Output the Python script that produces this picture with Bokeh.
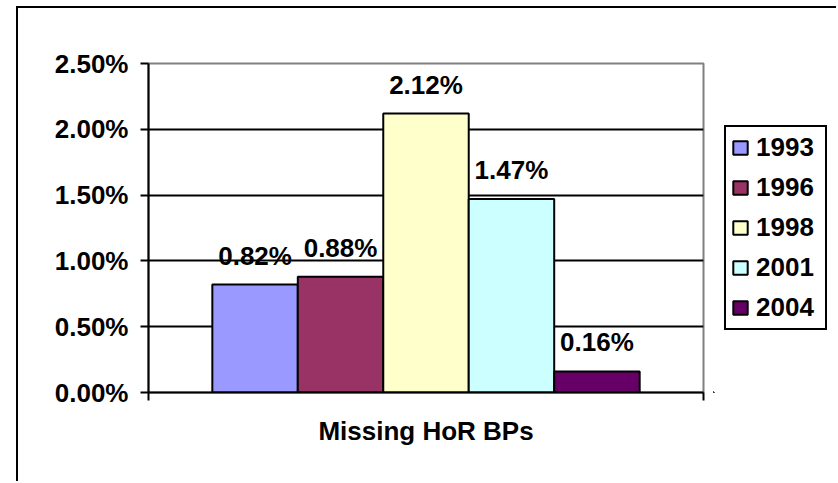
from bokeh.plotting import figure
from bokeh.models import (ColumnDataSource, FixedTicker, NumeralTickFormatter,
                          Legend, LegendItem, Range1d)
from bokeh.layouts import row
from bokeh.core.properties import value
from bokeh.embed import file_html
from bokeh.resources import INLINE

# ---- data ----
years = ["1993", "1996", "1998", "2001", "2004"]
missing = [0.0082, 0.0088, 0.0212, 0.0147, 0.0016]
labels = ["0.82%", "0.88%", "2.12%", "1.47%", "0.16%"]
colors = ["#9999FF", "#993366", "#FFFFCC", "#CCFFFF", "#660066"]
category = "Missing HoR BPs"
y_ticks = [0.0, 0.005, 0.01, 0.015, 0.02, 0.025]

FONT = "Liberation Sans"
FS = "26px"
BAR_W = 0.154
H = 481

p = figure(width=713, height=H, output_backend="svg", toolbar_location=None,
           x_range=Range1d(0, 1), y_range=Range1d(0, 0.025),
           min_border_left=148, min_border_right=10,
           min_border_top=63, min_border_bottom=89)
p.background_fill_color = "white"
p.border_fill_color = None
p.outline_line_color = "#808080"
p.outline_line_width = 2

sources = []
for i, (yr, v, c, lab) in enumerate(zip(years, missing, colors, labels)):
    xc = 0.5 + (i - 2) * BAR_W
    src = ColumnDataSource(dict(x=[xc], top=[v], lab=[lab]))
    sources.append(src)
    p.vbar(x="x", top="top", bottom=0, width=BAR_W, source=src,
           fill_color=c, line_color="black", line_width=2)
    p.text(x="x", y="top", text="lab", source=src, y_offset=-29,
           text_align="center", text_baseline="alphabetic",
           text_font=value(FONT), text_font_size=FS, text_font_style="bold",
           text_color="black")

# y axis
ya = p.yaxis[0]
ya.ticker = FixedTicker(ticks=y_ticks)
ya.formatter = NumeralTickFormatter(format="0.00%")
ya.axis_line_color = "black"
ya.axis_line_width = 2
ya.major_tick_line_color = "black"
ya.major_tick_line_width = 2
ya.major_tick_out = 8
ya.major_tick_in = 0
ya.minor_tick_line_color = None
ya.major_label_standoff = 12
ya.major_label_text_font = FONT
ya.major_label_text_font_size = FS
ya.major_label_text_font_style = "bold"
ya.major_label_text_color = "black"

# x axis
xa = p.xaxis[0]
xa.ticker = FixedTicker(ticks=[0, 1])
xa.major_label_overrides = {0: "", 1: ""}
xa.axis_line_color = "black"
xa.axis_line_width = 2
xa.major_tick_line_color = "black"
xa.major_tick_line_width = 2
xa.major_tick_out = 8
xa.major_tick_in = 0
xa.minor_tick_line_color = None
xa.axis_label = category
xa.axis_label_text_font = FONT
xa.axis_label_text_font_size = FS
xa.axis_label_text_font_style = "bold"
xa.axis_label_text_color = "black"
xa.axis_label_standoff = 15

# grid
p.xgrid.grid_line_color = None
p.ygrid.ticker = FixedTicker(ticks=[0.005, 0.01, 0.015, 0.02])
p.ygrid.grid_line_color = "black"
p.ygrid.grid_line_width = 2

# legend panel (separate canvas to the right of the plot)
p2 = figure(width=123, height=H, output_backend="svg", toolbar_location=None,
            x_range=Range1d(5, 6), y_range=Range1d(5, 6),
            x_axis_location=None, y_axis_location=None, min_border=0)
p2.grid.grid_line_color = None
p2.outline_line_color = None
p2.background_fill_color = None
p2.border_fill_color = None

items = []
for yr, c, src in zip(years, colors, sources):
    # same data, outside this panel's range: only the legend swatch shows
    r = p2.vbar(x="x", top="top", bottom=0, width=BAR_W, source=src,
                fill_color=c, line_color="black", line_width=2)
    items.append(LegendItem(label=yr, renderers=[r]))

legend = Legend(items=items, location=(11, 62))
legend.border_line_color = "black"
legend.border_line_alpha = 1
legend.border_line_width = 2
legend.background_fill_color = "white"
legend.background_fill_alpha = 1
legend.label_text_font = FONT
legend.label_text_font_size = FS
legend.label_text_font_style = "bold"
legend.label_text_color = "black"
legend.glyph_width = 18
legend.glyph_height = 17
legend.label_width = 64
legend.label_height = 25
legend.label_standoff = 7
legend.spacing = 9
legend.padding = 5
legend.margin = 0
p2.add_layout(legend, "center")

lay = row(p, p2, spacing=0)
# outer chart-area border (left and top edges visible)
lay.styles = {"box-shadow": "inset 0 6px 0 0 white, inset 16px 0 0 0 white, "
                            "inset 18px 0 0 0 black, inset 0 8px 0 0 black"}

open("out.html", "w").write(file_html(lay, INLINE))
